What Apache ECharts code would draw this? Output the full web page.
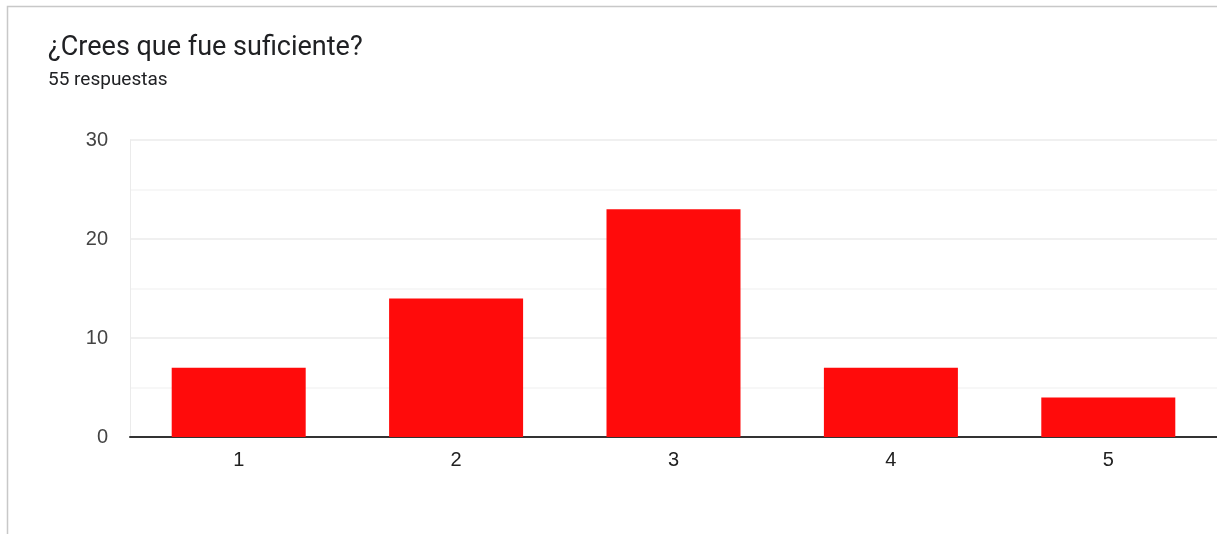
<!DOCTYPE html>
<html lang="es" style="height: 100%;">
<head>
    <meta charset="UTF-8">
    <title>¿Crees que fue suficiente?</title>
    <script src="https://cdn.jsdelivr.net/npm/echarts@6/dist/echarts.min.js"></script>
</head>
<body style="height: 100%; margin: 0;">
    <div style="width: 1217px; height: 534px;" id="chart"></div>
    <script>
        var categories = ['1', '2', '3', '4', '5'];
        var values = [7, 14, 23, 7, 4];
        var titleText = '¿Crees que fue suficiente?';
        var subtitleText = '55 respuestas';

        var chart = echarts.init(document.getElementById('chart'));

        var option = {
            animation: false,
            backgroundColor: '#fff',
            graphic: [{
                // borde de la tarjeta
                type: 'rect',
                shape: { x: 7.5, y: 6.5, width: 1400, height: 700 },
                style: { fill: 'none', stroke: '#c8c8c8', lineWidth: 1.5 },
                silent: true
            }],
            title: {
                text: titleText,
                subtext: subtitleText,
                left: 43,
                top: 30,
                itemGap: 9,
                textStyle: {
                    fontFamily: 'Roboto',
                    fontWeight: 'normal',
                    fontSize: 27,
                    color: '#202124'
                },
                subtextStyle: {
                    fontFamily: 'Roboto',
                    fontSize: 19,
                    color: '#202124'
                }
            },
            grid: {
                left: 130,
                right: 0,
                top: 140,
                bottom: 97
            },
            xAxis: {
                type: 'category',
                data: categories,
                axisTick: { show: false },
                axisLine: { lineStyle: { color: '#333', width: 2 } },
                axisLabel: {
                    fontFamily: 'Liberation Sans',
                    fontSize: 20,
                    color: '#222',
                    margin: 13
                }
            },
            yAxis: {
                type: 'value',
                min: 0,
                max: 30,
                interval: 10,
                axisLine: { show: true, lineStyle: { color: '#ebebeb', width: 1 } },
                axisTick: { show: false },
                axisLabel: {
                    fontFamily: 'Liberation Sans',
                    fontSize: 20,
                    color: '#444',
                    margin: 22,
                    padding: [3, 0, 0, 0]
                },
                splitLine: { lineStyle: { color: '#ebebeb', width: 1.5 } },
                minorTick: { show: false, splitNumber: 2 },
                minorSplitLine: { show: true, lineStyle: { color: '#f5f5f5', width: 1.5 } }
            },
            series: [{
                type: 'bar',
                data: values,
                barWidth: 134,
                itemStyle: { color: '#ff0b0b' }
            }]
        };

        chart.setOption(option);
    </script>
</body>
</html>
